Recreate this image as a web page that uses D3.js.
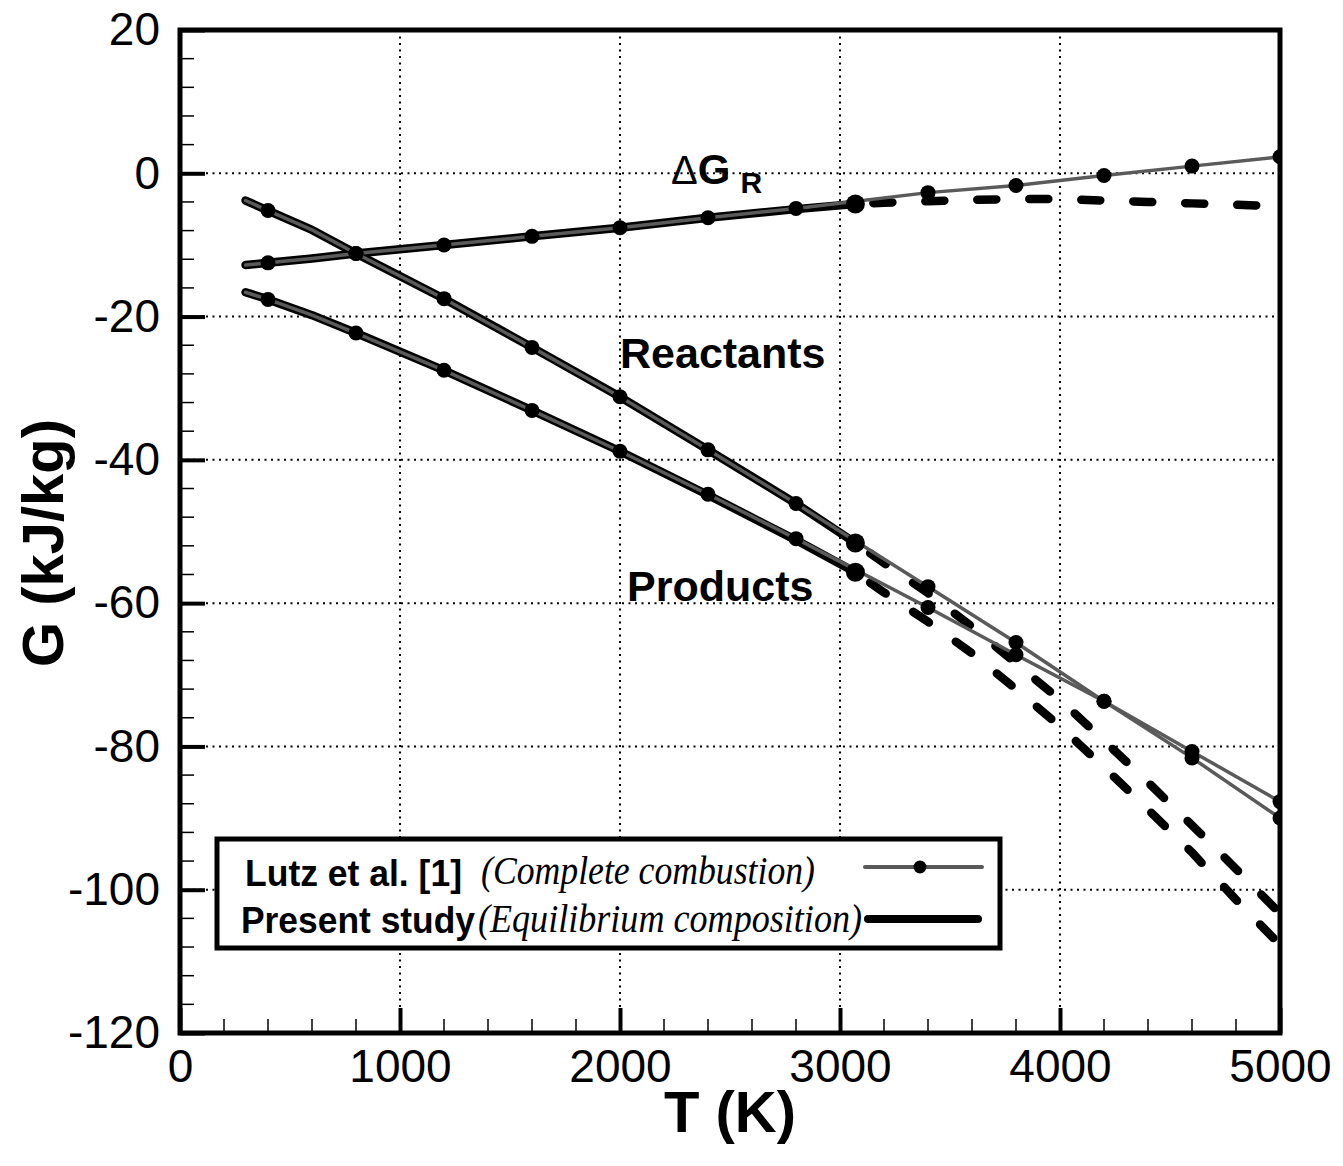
<!DOCTYPE html>
<html>
  <head>
    <meta charset="utf-8">
    <title>Gibbs energy vs temperature</title>
    <script src="https://cdn.jsdelivr.net/npm/d3@7"></script>
    <style>
      body { margin: 0; background: #fff; }
      text { font-family: "Liberation Sans", Arial, sans-serif; }
    </style>
  </head>
  <body>
    <svg id="chart" width="1343" height="1166"></svg>
    <script>
      // Lutz et al. [1] (complete combustion) - gray line with dots
      var lutzT        = [298, 400, 600, 800, 1200, 1600, 2000, 2400, 2800, 3400, 3800, 4200, 4600, 5000];
      var lutzDG       = [-12.8, -12.5, -11.9, -11.2, -10.0, -8.8, -7.6, -6.2, -4.9, -2.7, -1.7, -0.3, 1.0, 2.3];
      var lutzReact    = [-3.8, -5.2, -7.9, -11.2, -17.5, -24.3, -31.2, -38.6, -46.1, -57.7, -65.5, -73.7, -81.6, -90.0];
      var lutzProd     = [-16.6, -17.6, -19.8, -22.3, -27.5, -33.1, -38.8, -44.8, -51.0, -60.6, -67.2, -73.7, -80.7, -87.7];
      var lutzMarkT    = [400, 800, 1200, 1600, 2000, 2400, 2800, 3400, 3800, 4200, 4600, 5000];

      // present study (equilibrium composition), solid part
      var presT        = [298, 400, 600, 800, 1200, 1600, 2000, 2400, 2800, 3070];
      var presDG       = [-12.8, -12.5, -11.9, -11.2, -10.0, -8.8, -7.6, -6.2, -5.0, -4.3];
      var presReact    = [-3.8, -5.2, -7.9, -11.2, -17.5, -24.3, -31.2, -38.6, -46.1, -51.6];
      var presProd     = [-16.6, -17.6, -19.8, -22.3, -27.5, -33.1, -38.8, -44.9, -51.2, -55.7];

      // present study, dashed part
      var dashT        = [3070, 3200, 3400, 3600, 3800, 4000, 4200, 4400, 4600, 4800, 5000];
      var dashDG       = [-4.3, -4.1, -3.9, -3.7, -3.6, -3.6, -3.8, -4.0, -4.2, -4.4, -4.6];
      var dashReact    = [-51.6, -54.4, -58.6, -63.3, -68.4, -73.5, -79.2, -85.0, -91.0, -97.1, -103.3];
      var dashProd     = [-55.7, -58.5, -62.6, -67.0, -72.0, -77.2, -82.9, -88.8, -94.8, -101.4, -107.7];

      var xTicks = [0, 1000, 2000, 3000, 4000, 5000];
      var yTicks = [20, 0, -20, -40, -60, -80, -100, -120];

      var svg = d3.select("#chart");
      var mLeft = 180, mTop = 30, w = 1100, h = 1003;

      var x = d3.scaleLinear().domain([0, 5000]).range([mLeft, mLeft + w]);
      var y = d3.scaleLinear().domain([-120, 20]).range([mTop + h, mTop]);

      function pts(T, V) {
        return T.map(function(t, i) { return {t: t, v: V[i]}; });
      }

      var line = d3.line()
        .x(function(d) { return x(d.t); })
        .y(function(d) { return y(d.v); });

      // grid
      var grid = svg.append("g")
        .style("stroke", "#000")
        .style("stroke-width", 2)
        .style("stroke-dasharray", "2,4.5");
      grid.selectAll(".gx").data(xTicks.slice(1, -1)).enter().append("line")
        .attr("x1", x).attr("x2", x).attr("y1", mTop).attr("y2", mTop + h);
      grid.selectAll(".gy").data(yTicks.slice(1, -1)).enter().append("line")
        .attr("x1", mLeft).attr("x2", mLeft + w).attr("y1", y).attr("y2", y);

      // clip to frame
      svg.append("clipPath").attr("id", "clip")
        .append("rect").attr("x", mLeft).attr("y", mTop).attr("width", w).attr("height", h);
      var plot = svg.append("g").attr("clip-path", "url(#clip)");

      var solids = [[presT, presDG], [presT, presReact], [presT, presProd]];
      var dashes = [[dashT, dashDG], [dashT, dashReact], [dashT, dashProd]];
      var lutz = [lutzDG, lutzReact, lutzProd];

      // present study dashed
      dashes.forEach(function(s) {
        plot.append("path")
          .attr("d", line(pts(s[0], s[1])))
          .attr("fill", "none")
          .attr("stroke", "#000")
          .attr("stroke-width", 8.5)
          .attr("stroke-linecap", "round")
          .attr("stroke-dasharray", "19,33")
          .attr("stroke-dashoffset", -18);
      });

      // present study solid
      solids.forEach(function(s) {
        plot.append("path")
          .attr("d", line(pts(s[0], s[1])))
          .attr("fill", "none")
          .attr("stroke", "#000")
          .attr("stroke-width", 8.5)
          .attr("stroke-linecap", "round")
          .attr("stroke-linejoin", "round");
      });

      // Lutz lines
      lutz.forEach(function(V) {
        plot.append("path")
          .attr("d", line(pts(lutzT, V)))
          .attr("fill", "none")
          .attr("stroke", "#5a5a5a")
          .attr("stroke-width", 3.5)
          .attr("stroke-linecap", "round")
          .attr("stroke-linejoin", "round");
      });

      // Lutz markers
      lutz.forEach(function(V) {
        var p = pts(lutzT, V).filter(function(d) { return lutzMarkT.indexOf(d.t) >= 0; });
        plot.selectAll(null).data(p).enter().append("circle")
          .attr("cx", function(d) { return x(d.t); })
          .attr("cy", function(d) { return y(d.v); })
          .attr("r", 7.5)
          .attr("fill", "#000");
      });

      // end of solid present-study lines
      solids.forEach(function(s) {
        var p = pts(s[0], s[1]);
        var d = p[p.length - 1];
        plot.append("circle")
          .attr("cx", x(d.t)).attr("cy", y(d.v)).attr("r", 9.5).attr("fill", "#000");
      });

      // minor ticks
      var minorX = d3.range(0, 5001, 200);
      var minorY = d3.range(-120, 21, 4);
      svg.append("g").selectAll("line").data(minorX).enter().append("line")
        .attr("x1", x).attr("x2", x).attr("y1", mTop + h).attr("y2", mTop + h - 14)
        .attr("stroke", "#000").attr("stroke-width", 1.5);
      svg.append("g").selectAll("line").data(minorY).enter().append("line")
        .attr("x1", mLeft).attr("x2", mLeft + 14).attr("y1", y).attr("y2", y)
        .attr("stroke", "#000").attr("stroke-width", 1.5);

      // axes
      var fmt = function(d) { return String(d); };
      var xAxis = svg.append("g")
        .attr("transform", "translate(0," + (mTop + h) + ")")
        .call(d3.axisBottom(x).tickValues(xTicks).tickFormat(fmt)
          .tickSizeInner(-25).tickSizeOuter(0).tickPadding(16));
      var yAxis = svg.append("g")
        .attr("transform", "translate(" + mLeft + ",0)")
        .call(d3.axisLeft(y).tickValues(yTicks).tickFormat(fmt)
          .tickSizeInner(-25).tickSizeOuter(0).tickPadding(20));
      [xAxis, yAxis].forEach(function(a) {
        a.select(".domain").remove();
        a.selectAll(".tick line").attr("stroke", "#000").attr("stroke-width", 4);
        a.selectAll(".tick text")
          .attr("fill", "#000")
          .style("font-size", "46px")
          .style("font-family", "'Liberation Sans', Arial, sans-serif");
      });

      // frame
      svg.append("rect")
        .attr("x", mLeft).attr("y", mTop).attr("width", w).attr("height", h)
        .attr("fill", "none").attr("stroke", "#000").attr("stroke-width", 5);

      // axis titles
      svg.append("text")
        .attr("x", mLeft + w / 2).attr("y", 1132)
        .attr("text-anchor", "middle")
        .style("font-size", "58px").style("font-weight", "bold")
        .text("T (K)");
      svg.append("text")
        .attr("transform", "translate(63,543) rotate(-90)")
        .attr("text-anchor", "middle")
        .style("font-size", "58px").style("font-weight", "bold")
        .text("G (kJ/kg)");

      // curve labels
      var dg = svg.append("text").attr("x", 671).attr("y", 184);
      dg.append("tspan").style("font-size", "40px").text("\u0394");
      dg.append("tspan").style("font-size", "42px").style("font-weight", "bold").text("G");
      dg.append("tspan").attr("dx", 10).attr("dy", 9).style("font-size", "30px").style("font-weight", "bold").text("R");

      svg.append("text").attr("x", 620).attr("y", 368)
        .style("font-size", "43px").style("font-weight", "bold").text("Reactants");
      svg.append("text").attr("x", 627).attr("y", 601)
        .style("font-size", "43px").style("font-weight", "bold").text("Products");

      // legend
      var lg = svg.append("g");
      lg.append("rect")
        .attr("x", 217).attr("y", 839).attr("width", 783).attr("height", 109)
        .attr("fill", "#fff").attr("stroke", "#000").attr("stroke-width", 5);
      lg.append("text").attr("x", 245).attr("y", 886)
        .attr("textLength", 217).attr("lengthAdjust", "spacingAndGlyphs")
        .style("font-size", "37px").style("font-weight", "bold").text("Lutz et al. [1]");
      lg.append("text").attr("x", 481).attr("y", 884)
        .attr("textLength", 334).attr("lengthAdjust", "spacingAndGlyphs")
        .style("font-family", "'Liberation Serif', 'Times New Roman', serif")
        .style("font-style", "italic").style("font-size", "40px").text("(Complete combustion)");
      lg.append("text").attr("x", 241).attr("y", 933)
        .attr("textLength", 234).attr("lengthAdjust", "spacingAndGlyphs")
        .style("font-size", "37px").style("font-weight", "bold").text("Present study");
      lg.append("text").attr("x", 478).attr("y", 932)
        .attr("textLength", 384).attr("lengthAdjust", "spacingAndGlyphs")
        .style("font-family", "'Liberation Serif', 'Times New Roman', serif")
        .style("font-style", "italic").style("font-size", "40px").text("(Equilibrium composition)");
      lg.append("line").attr("x1", 865).attr("x2", 982).attr("y1", 867).attr("y2", 867)
        .attr("stroke", "#5a5a5a").attr("stroke-width", 4).attr("stroke-linecap", "round");
      lg.append("circle").attr("cx", 920).attr("cy", 867).attr("r", 6.5).attr("fill", "#000");
      lg.append("line").attr("x1", 868).attr("x2", 978).attr("y1", 919).attr("y2", 919)
        .attr("stroke", "#000").attr("stroke-width", 8).attr("stroke-linecap", "round");
    </script>
  </body>
</html>
